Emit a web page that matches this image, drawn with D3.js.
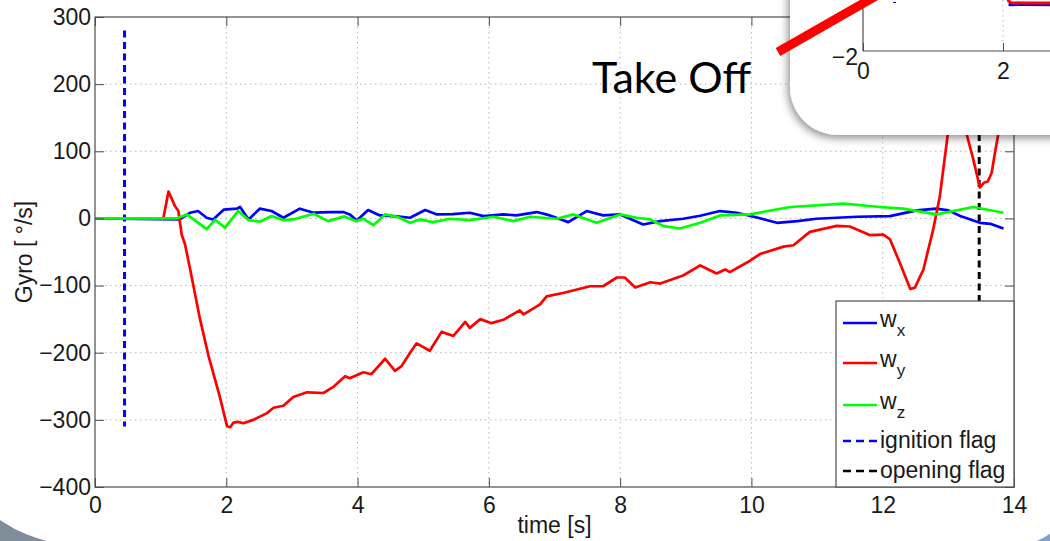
<!DOCTYPE html>
<html>
<head>
<meta charset="utf-8">
<script src="https://cdn.jsdelivr.net/npm/d3@7"></script>
<style>
  body { margin: 0; background: #fff; }
  svg { display: block; }
  .tick text { font-family: "Liberation Sans", Arial, sans-serif; font-size: 23px; fill: #1a1a1a; }
  .tick line { stroke: #4d4d4d; }
</style>
</head>
<body>
<div class="chart-container"></div>
<script>
//! DATA
const xTicks = [0, 2, 4, 6, 8, 10, 12, 14]
const yTicks = [-400, -300, -200, -100, 0, 100, 200, 300]

const wxTime = [0, 1.29, 1.45, 1.57, 1.70, 1.80, 1.96, 2.16, 2.21, 2.34, 2.51, 2.69, 2.87, 3.12, 3.33, 3.58, 3.78, 3.88, 3.99, 4.16, 4.34, 4.60, 4.80, 5.03, 5.21, 5.45, 5.71, 5.92, 6.22, 6.42, 6.73, 6.93, 7.21, 7.49, 7.74, 8.00, 8.35, 8.61, 8.96, 9.22, 9.52, 9.78, 10.10, 10.39, 10.70, 10.99, 11.30, 11.61, 12.11, 12.52, 12.82, 13.00, 13.18, 13.48, 13.64, 13.84]
const wxValues = [0, -1.5, 8.5, 11, 1, -1.5, 13, 14.5, 17, -1.5, 14.5, 11, 1, 14.5, 8.5, 9.5, 9.5, 6, -3, 12.5, 4.5, 3, 1, 12.5, 6, 6.5, 8.5, 3.5, 6, 4.5, 9.5, 4.5, -5.5, 11, 4.5, 6, -9, -4, -0.5, 4, 11, 8.5, 1, -6.5, -4, -0.5, 1, 2.5, 3.5, 12, 14.5, 12, 3.5, -6.5, -8, -15]

const wyTime = [0, 1.04, 1.12, 1.22, 1.27, 1.32, 1.37, 1.45, 1.60, 1.73, 1.90, 2.01, 2.06, 2.11, 2.18, 2.26, 2.41, 2.62, 2.72, 2.87, 3.02, 3.23, 3.48, 3.63, 3.81, 3.88, 4.09, 4.21, 4.42, 4.57, 4.67, 4.80, 4.90, 5.10, 5.28, 5.46, 5.64, 5.71, 5.87, 6.04, 6.22, 6.47, 6.53, 6.78, 6.88, 7.13, 7.54, 7.74, 7.95, 8.07, 8.23, 8.46, 8.61, 8.96, 9.22, 9.47, 9.60, 9.67, 9.98, 10.13, 10.49, 10.64, 10.89, 11.30, 11.50, 11.81, 12.01, 12.11, 12.26, 12.42, 12.49, 12.62, 12.77, 12.87, 13.00, 13.08, 13.15, 13.22, 13.28, 13.38, 13.48, 13.54, 13.60, 13.66, 13.71, 13.76, 13.80, 13.84]
const wyValues = [0, 0, 40, 18, 11, -24, -38, -76, -150, -205, -265, -309, -311, -304, -303, -305, -300, -290, -282, -279, -266, -259, -260, -251, -235, -238, -229, -232, -209, -227, -220, -200, -186, -197, -169, -175, -154, -163, -150, -156, -151, -137, -143, -128, -116, -111, -101, -101, -88, -88, -103, -95, -97, -85, -70, -82, -76, -80, -63, -53, -42, -40, -20, -11, -12, -25, -24, -31, -66, -105, -103, -76, -16, 33, 132, 220, 260, 215, 125, 88, 46, 53, 55, 68, 98, 125, 180, 230]

const wzTime = [0, 1.24, 1.40, 1.70, 1.83, 1.98, 2.18, 2.34, 2.51, 2.69, 2.87, 3.02, 3.33, 3.55, 3.80, 3.97, 4.09, 4.24, 4.42, 4.60, 4.80, 4.95, 5.15, 5.41, 5.71, 6.07, 6.37, 6.63, 7.03, 7.29, 7.64, 8.00, 8.25, 8.46, 8.66, 8.91, 9.22, 9.52, 9.98, 10.59, 11.40, 11.96, 12.31, 12.82, 13.38, 13.84]
const wzValues = [0, 0, 6, -16, -2, -14, 11, -2.5, -5, 3.5, -2.5, -1.5, 7, -4, 3, -4, -0.5, -10, 6, 2.5, -6.5, -1.5, -5.5, -0.5, -2.5, 2.5, -4, 2.5, -0.5, 6, -6.5, 6, 1, -1.5, -11.5, -15, -6.5, 4.5, 6, 17, 22, 17, 14.5, 6, 17, 8.5]

// flags: time, from, to
const ignitionFlag = [0.45, -310, 280]
const openingFlag = [13.47, -310, 280]

// inset (zoomed view, only its lower left part shows)
const insetXTicks = [0, 2]
const insetYTicks = [-2]
const insetIgnition = [0.45, 0, 1]
const insetWyTime = [2.06, 2.08, 2.12, 2.3, 2.7]
const insetWyValues = [0.3, 0.08, 0.01, 0, 0]
const insetWxTime = [2.08, 2.12, 2.3, 2.7]
const insetWxValues = [-0.06, -0.07, -0.06, -0.07]

const legendItems = [
  { name: 'w', sub: 'x', color: '#0000ff', dash: null },
  { name: 'w', sub: 'y', color: '#ff0000', dash: null },
  { name: 'w', sub: 'z', color: '#00ff00', dash: null },
  { name: 'ignition flag', sub: null, color: '#0000ff', dash: '8,5' },
  { name: 'opening flag', sub: null, color: '#000000', dash: '8,5' }
]

//! CONSTS
const width = 1050
const height = 541
const mLeft = 95, mRight = 1014, mTop = 17, mBottom = 487
const font = '"Liberation Sans", Arial, sans-serif'
const intFormat = d => d3.format('d')(d).replace('-', '\u2212')

const svg = d3.select('.chart-container')
  .append('svg')
  .attr('width', width)
  .attr('height', height)

const defs = svg.append('defs')
const bg = defs.append('linearGradient').attr('id', 'bg')
  .attr('x1', 0).attr('y1', 0).attr('x2', 1).attr('y2', 0)
bg.append('stop').attr('offset', 0).attr('stop-color', '#7f8c99')
bg.append('stop').attr('offset', 1).attr('stop-color', '#7f9fcc')

defs.append('clipPath').attr('id', 'plot')
  .append('rect').attr('x', mLeft).attr('y', mTop)
  .attr('width', mRight - mLeft).attr('height', mBottom - mTop)

const shadow = defs.append('filter').attr('id', 'shadow')
  .attr('x', '-20%').attr('y', '-20%').attr('width', '140%').attr('height', '140%')
shadow.append('feDropShadow')
  .attr('dx', -2).attr('dy', 3).attr('stdDeviation', 4)
  .attr('flood-color', '#000').attr('flood-opacity', 0.45)

//! SLIDE BACKGROUND
svg.append('rect').attr('width', width).attr('height', height).attr('fill', 'url(#bg)')
svg.append('path')
  .attr('d', 'M-60,-60 H1075 V485 A60,60 0 0 1 1015,545 H80 A140,140 0 0 1 -60,405 Z')
  .attr('fill', '#fff')

//! SCALES
const xScale = d3.scaleLinear().domain([0, 14]).range([mLeft, mRight])
const yScale = d3.scaleLinear().domain([-400, 300]).range([mBottom, mTop])

//! GRID
const grid = svg.append('g')
  .attr('stroke', '#b8b8b8').attr('stroke-width', 1).attr('stroke-dasharray', '1.5,3.5')
grid.selectAll('.gx').data(xTicks.slice(1, -1)).enter().append('line')
  .attr('x1', d => xScale(d)).attr('x2', d => xScale(d))
  .attr('y1', mTop).attr('y2', mBottom)
grid.selectAll('.gy').data(yTicks.slice(1, -1)).enter().append('line')
  .attr('y1', d => yScale(d)).attr('y2', d => yScale(d))
  .attr('x1', mLeft).attr('x2', mRight)

//! LINES
const plot = svg.append('g').attr('clip-path', 'url(#plot)')
const line = d3.line().x(d => xScale(d[0])).y(d => yScale(d[1]))

const series = [
  { t: wxTime, v: wxValues, color: '#0000ff' },
  { t: wyTime, v: wyValues, color: '#ff0000' },
  { t: wzTime, v: wzValues, color: '#00ff00' }
]

const flags = [
  { f: ignitionFlag, color: '#0000ff' },
  { f: openingFlag, color: '#000000' }
]

plot.selectAll('.flag').data(flags).enter().append('line')
  .attr('x1', d => xScale(d.f[0])).attr('x2', d => xScale(d.f[0]))
  .attr('y1', d => yScale(d.f[2])).attr('y2', d => yScale(d.f[1]))
  .attr('stroke', d => d.color).attr('stroke-width', 3)
  .attr('stroke-dasharray', '7,4.5')

plot.selectAll('.series').data(series).enter().append('path')
  .attr('d', d => line(d.t.map((t, i) => [t, d.v[i]])))
  .attr('fill', 'none')
  .attr('stroke', d => d.color)
  .attr('stroke-width', 2.7)
  .attr('stroke-linejoin', 'round')

//! AXES
svg.append('g').attr('transform', `translate(0,${mBottom})`)
  .call(d3.axisBottom(xScale).tickValues(xTicks).tickSizeInner(-9).tickSizeOuter(0).tickPadding(10))
svg.append('g').attr('transform', `translate(${mLeft},0)`)
  .call(d3.axisLeft(yScale).tickValues(yTicks).tickSizeInner(-9).tickSizeOuter(0).tickPadding(4)
    .tickFormat(intFormat))
svg.append('g').attr('transform', `translate(0,${mTop})`)
  .call(d3.axisTop(xScale).tickValues(xTicks).tickSizeInner(-9).tickSizeOuter(0).tickFormat(''))
svg.append('g').attr('transform', `translate(${mRight},0)`)
  .call(d3.axisRight(yScale).tickValues(yTicks).tickSizeInner(-9).tickSizeOuter(0).tickFormat(''))
svg.selectAll('.domain').remove()

svg.append('rect')
  .attr('x', mLeft).attr('y', mTop).attr('width', mRight - mLeft).attr('height', mBottom - mTop)
  .attr('fill', 'none').attr('stroke', '#4d4d4d').attr('stroke-width', 1.2)

svg.append('text')
  .attr('x', (mLeft + mRight) / 2).attr('y', 533)
  .attr('text-anchor', 'middle')
  .style('font-family', font).style('font-size', '23px').attr('fill', '#1a1a1a')
  .text('time [s]')

svg.append('text')
  .attr('transform', `translate(32,${(mTop + mBottom) / 2}) rotate(-90)`)
  .attr('text-anchor', 'middle')
  .style('font-family', font).style('font-size', '23px').attr('fill', '#1a1a1a')
  .text('Gyro [ °/s]')

//! LEGEND
const legend = svg.append('g')
legend.append('rect')
  .attr('x', 836).attr('y', 301).attr('width', mRight - 836).attr('height', mBottom - 301)
  .attr('fill', '#fff').attr('stroke', '#4d4d4d').attr('stroke-width', 1.2)
const legendY = [323, 363, 405, 441, 471]
const entry = legend.selectAll('.entry').data(legendItems).enter().append('g')
  .attr('transform', (d, i) => `translate(0,${legendY[i]})`)
entry.append('line')
  .attr('x1', 843).attr('x2', 877).attr('y1', 0).attr('y2', 0)
  .attr('stroke', d => d.color).attr('stroke-width', 2.7)
  .attr('stroke-dasharray', d => d.dash)
const label = entry.append('text')
  .attr('x', 880).attr('y', d => d.sub ? 4 : 7)
  .style('font-family', font).style('font-size', '23px').attr('fill', '#1a1a1a')
label.append('tspan').text(d => d.name)
label.filter(d => d.sub).append('tspan')
  .attr('dy', 9).style('font-size', '17px').text(d => d.sub)

//! INSET
const inset = svg.append('g')
inset.append('rect')
  .attr('x', 790).attr('y', -80).attr('width', 320).attr('height', 215).attr('rx', 48)
  .attr('fill', '#fff').attr('filter', 'url(#shadow)')

const ix = d3.scaleLinear().domain([0, 2]).range([863, 1003])
const iy = d3.scaleLinear().domain([-2, 0]).range([51, 3])
const iline = d3.line().x(d => ix(d[0])).y(d => iy(d[1]))

inset.append('line')
  .attr('x1', ix(2)).attr('x2', ix(2)).attr('y1', 0).attr('y2', 43)
  .attr('stroke', '#b8b8b8').attr('stroke-dasharray', '1.5,3.5')
inset.append('line')
  .attr('x1', ix(insetIgnition[0])).attr('x2', ix(insetIgnition[0]))
  .attr('y1', iy(insetIgnition[2])).attr('y2', iy(insetIgnition[1]))
  .attr('stroke', '#0000ff').attr('stroke-width', 3).attr('stroke-dasharray', '7,4.5')
inset.append('path')
  .attr('d', iline(insetWxTime.map((t, i) => [t, insetWxValues[i]])))
  .attr('fill', 'none').attr('stroke', '#0000ff').attr('stroke-width', 3)
inset.append('path')
  .attr('d', iline(insetWyTime.map((t, i) => [t, insetWyValues[i]])))
  .attr('fill', 'none').attr('stroke', '#ff0000').attr('stroke-width', 3)

inset.append('g').attr('transform', `translate(0,${iy(-2)})`)
  .call(d3.axisBottom(ix).tickValues(insetXTicks).tickSizeInner(-8).tickSizeOuter(0).tickPadding(12)
    .tickFormat(intFormat))
  .call(g => g.select('.domain').attr('d', `M${ix(0)},0H1060`).attr('stroke', '#4d4d4d').attr('stroke-width', 1.2))
inset.append('g').attr('transform', `translate(${ix(0)},0)`)
  .call(d3.axisLeft(iy).tickValues(insetYTicks).tickSizeInner(0).tickSizeOuter(0).tickPadding(5)
    .tickFormat(intFormat))
  .call(g => g.select('.domain').attr('d', `M0,${iy(-2)}V-5`).attr('stroke', '#4d4d4d').attr('stroke-width', 1.2))
  .call(g => g.selectAll('.tick text').attr('dy', '0.6em'))

//! ANNOTATION
svg.append('line')
  .attr('x1', 778).attr('y1', 52).attr('x2', 876).attr('y2', -4)
  .attr('stroke', '#ff0000').attr('stroke-width', 9)

svg.append('text')
  .attr('x', 592).attr('y', 93)
  .style('font-family', 'Lato, "Open Sans", sans-serif').style('font-size', '43px')
  .attr('fill', '#000')
  .text('Take Off')
</script>
</body>
</html>
